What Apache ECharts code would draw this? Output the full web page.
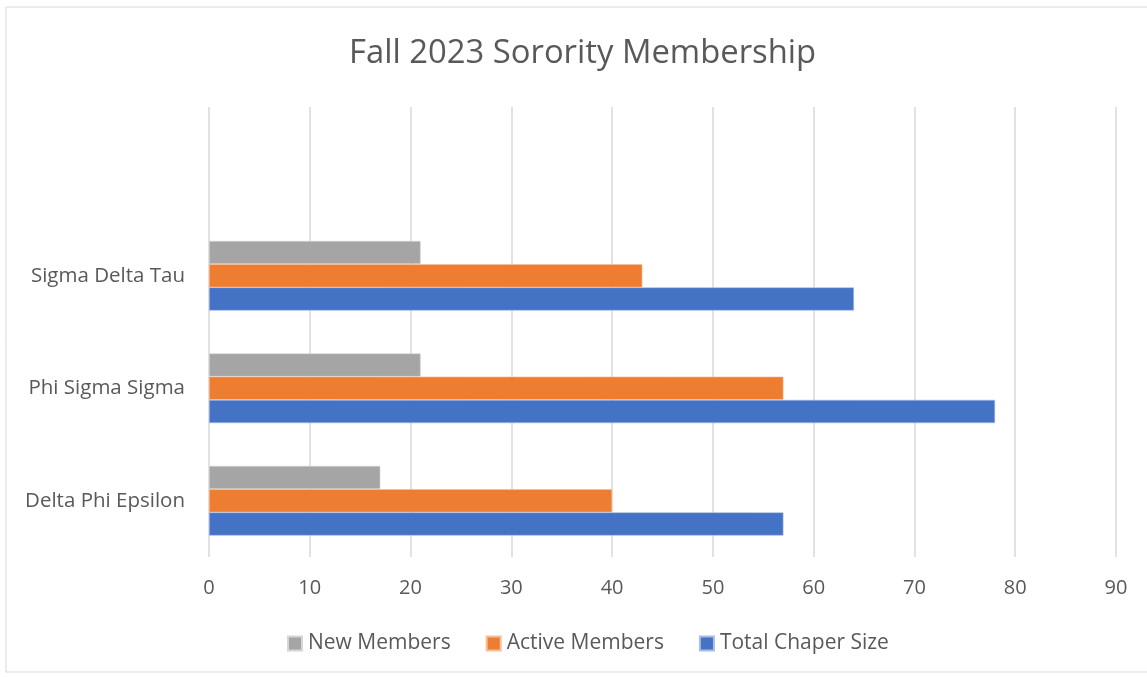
<!DOCTYPE html>
<html><head><meta charset="utf-8">
<script src="https://cdn.jsdelivr.net/npm/echarts@6/dist/echarts.min.js"></script>
<style>html,body{margin:0;padding:0;background:#fff}#c{width:1147px;height:677px}</style>
</head><body><div id="c"></div>
<script>
var categories = ['Delta Phi Epsilon', 'Phi Sigma Sigma', 'Sigma Delta Tau', ''];
var newMembers = [17, 21, 21, null];
var activeMembers = [40, 57, 43, null];
var totalChapterSize = [57, 78, 64, null];
var seriesNames = ['New Members', 'Active Members', 'Total Chaper Size'];
var xTicks = {min: 0, max: 90, interval: 10};

var chart = echarts.init(document.getElementById('c'), null, {renderer: 'canvas'});
var font = 'Open Sans';
chart.setOption({
  animation: false,
  backgroundColor: '#ffffff',
  graphic: [{type: 'rect', shape: {x: 6, y: 7, width: 1160, height: 665}, style: {fill: 'none', stroke: '#d9d9d9', lineWidth: 1}, silent: true}],
  title: {text: 'Fall 2023 Sorority Membership', left: 344, top: 32,
    textStyle: {fontFamily: font, fontSize: 32.8, fontWeight: 'normal', color: '#595959'}},
  legend: {bottom: 18, left: 282, itemWidth: 14, itemHeight: 14, itemGap: 35,
    icon: 'rect', data: seriesNames,
    textStyle: {fontFamily: font, fontSize: 21, color: '#595959', padding: [0, 0, 0, 1]}},
  grid: {left: 209, right: 31, top: 107, bottom: 120, containLabel: false},
  xAxis: {type: 'value', min: xTicks.min, max: xTicks.max, interval: xTicks.interval,
    axisLine: {show: false}, axisTick: {show: false},
    axisLabel: {fontFamily: font, fontSize: 20, color: '#595959', margin: 21},
    splitLine: {show: true, lineStyle: {color: '#d9d9d9', width: 1.5}}},
  yAxis: {type: 'category', data: categories,
    axisLine: {show: false}, axisTick: {show: false},
    axisLabel: {fontFamily: font, fontSize: 20.5, color: '#595959', margin: 24}},
  series: [
    {name: seriesNames[0], type: 'bar', data: newMembers, barGap: '0%', barCategoryGap: '38%',
      itemStyle: {color: '#A5A5A5', borderColor: '#d6d6d6', borderWidth: 0.6}},
    {name: seriesNames[1], type: 'bar', data: activeMembers, barGap: '0%', barCategoryGap: '38%',
      itemStyle: {color: '#ED7D31', borderColor: '#f6bf9a', borderWidth: 0.6}},
    {name: seriesNames[2], type: 'bar', data: totalChapterSize, barGap: '0%', barCategoryGap: '38%',
      itemStyle: {color: '#4472C4', borderColor: '#a9bde6', borderWidth: 0.6}}
  ]
});
</script></body></html>
